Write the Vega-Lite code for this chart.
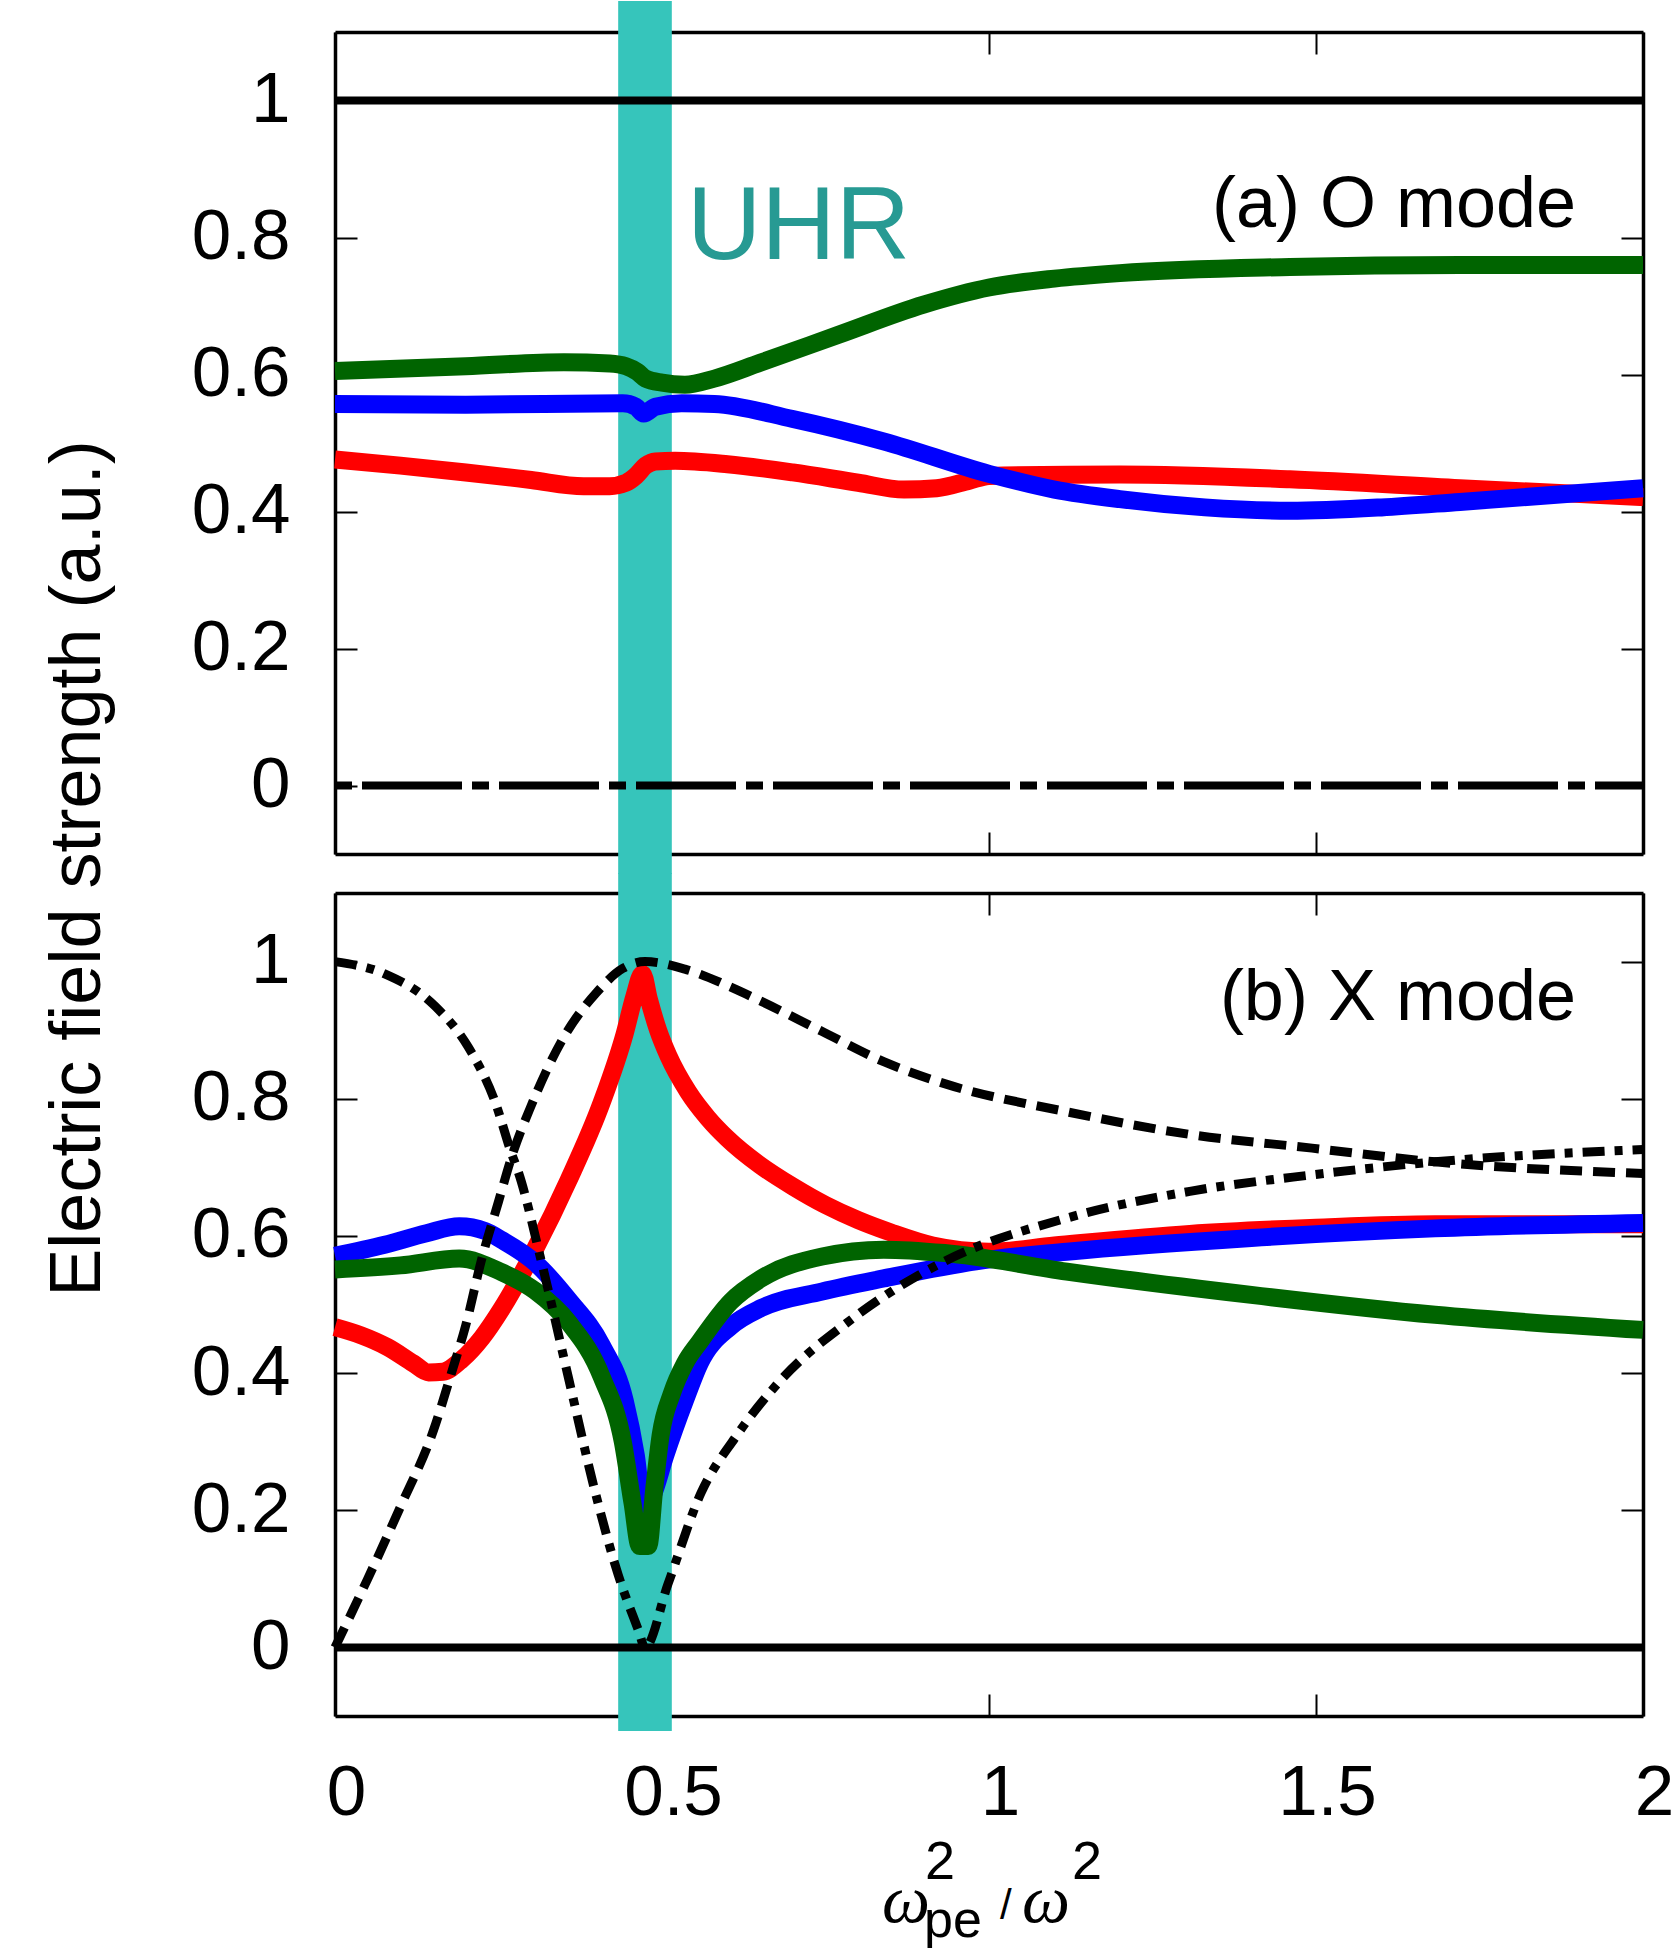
{
"$schema": "https://vega.github.io/schema/vega-lite/v6.json",
"autosize": {"type": "pad"},
"padding": {"left": 41, "top": 0, "right": 0, "bottom": 0},
"background": "white",
"spacing": 39,
"bounds": "flush",
"config": {
  "view": {"stroke": null},
  "font": "Liberation Sans",
  "axis": {"tickColor": "#000", "tickWidth": 2, "tickSize": -22, "domainColor": "#000", "domainWidth": 3.5, "grid": false, "zindex": 1, "labelColor": "#000", "labelFont": "Liberation Sans", "labelFontSize": 71, "labelFlush": false, "labelOverlap": false, "labelBound": false, "format": "~g"}
},
"datasets": {
  "band": [{"x0": 0.433, "x1": 0.515}],
  "one": [{}],
  "aRed": [{"x":0,"y":0.476},{"x":0.1,"y":0.467},{"x":0.2,"y":0.457},{"x":0.3,"y":0.446},{"x":0.38,"y":0.437},{"x":0.42,"y":0.437},{"x":0.445,"y":0.442},{"x":0.46,"y":0.452},{"x":0.475,"y":0.467},{"x":0.49,"y":0.473},{"x":0.52,"y":0.474},{"x":0.6,"y":0.469},{"x":0.7,"y":0.457},{"x":0.8,"y":0.442},{"x":0.87,"y":0.432},{"x":0.92,"y":0.434},{"x":0.97,"y":0.445},{"x":1.0,"y":0.452},{"x":1.2,"y":0.454},{"x":1.46,"y":0.447},{"x":1.72,"y":0.434},{"x":2.0,"y":0.421}],
  "aBlue": [{"x":0,"y":0.557},{"x":0.2,"y":0.556},{"x":0.44,"y":0.558},{"x":0.46,"y":0.553},{"x":0.472,"y":0.543},{"x":0.49,"y":0.553},{"x":0.53,"y":0.558},{"x":0.58,"y":0.557},{"x":0.7,"y":0.535},{"x":0.84,"y":0.502},{"x":1.0,"y":0.455},{"x":1.1,"y":0.432},{"x":1.2,"y":0.418},{"x":1.33,"y":0.406},{"x":1.46,"y":0.401},{"x":1.6,"y":0.406},{"x":1.72,"y":0.414},{"x":2.0,"y":0.434}],
  "aGreen": [{"x":0,"y":0.605},{"x":0.2,"y":0.612},{"x":0.35,"y":0.618},{"x":0.42,"y":0.616},{"x":0.445,"y":0.612},{"x":0.462,"y":0.604},{"x":0.475,"y":0.594},{"x":0.5,"y":0.588},{"x":0.535,"y":0.585},{"x":0.58,"y":0.594},{"x":0.65,"y":0.617},{"x":0.77,"y":0.658},{"x":0.9,"y":0.702},{"x":1.0,"y":0.727},{"x":1.1,"y":0.74},{"x":1.2,"y":0.748},{"x":1.46,"y":0.757},{"x":1.72,"y":0.76},{"x":2.0,"y":0.76}],
  "aRef1": [{"x":0,"y":1},{"x":2,"y":1}],
  "aRef0": [{"x":0,"y":0},{"x":2,"y":0}],
  "bRed": [{"x":0,"y":0.467},{"x":0.04,"y":0.455},{"x":0.08,"y":0.438},{"x":0.12,"y":0.414},{"x":0.143,"y":0.401},{"x":0.165,"y":0.402},{"x":0.194,"y":0.42},{"x":0.225,"y":0.452},{"x":0.255,"y":0.494},{"x":0.306,"y":0.581},{"x":0.357,"y":0.681},{"x":0.408,"y":0.795},{"x":0.443,"y":0.895},{"x":0.458,"y":0.95},{"x":0.47,"y":0.982},{"x":0.48,"y":0.945},{"x":0.494,"y":0.9},{"x":0.51,"y":0.862},{"x":0.54,"y":0.81},{"x":0.57,"y":0.772},{"x":0.6,"y":0.742},{"x":0.65,"y":0.703},{"x":0.7,"y":0.672},{"x":0.75,"y":0.645},{"x":0.8,"y":0.623},{"x":0.85,"y":0.605},{"x":0.914,"y":0.586},{"x":1.0,"y":0.577},{"x":1.1,"y":0.586},{"x":1.307,"y":0.603},{"x":1.5,"y":0.612},{"x":1.682,"y":0.617},{"x":2.0,"y":0.617}],
  "bBlue": [{"x":0,"y":0.571},{"x":0.076,"y":0.587},{"x":0.14,"y":0.604},{"x":0.19,"y":0.614},{"x":0.23,"y":0.607},{"x":0.255,"y":0.594},{"x":0.306,"y":0.561},{"x":0.357,"y":0.507},{"x":0.408,"y":0.44},{"x":0.443,"y":0.36},{"x":0.46,"y":0.28},{"x":0.472,"y":0.2},{"x":0.485,"y":0.22},{"x":0.505,"y":0.28},{"x":0.535,"y":0.36},{"x":0.558,"y":0.415},{"x":0.605,"y":0.468},{"x":0.652,"y":0.495},{"x":0.745,"y":0.519},{"x":0.839,"y":0.538},{"x":0.98,"y":0.563},{"x":1.119,"y":0.577},{"x":1.401,"y":0.597},{"x":1.682,"y":0.611},{"x":2.0,"y":0.619}],
  "bGreen": [{"x":0,"y":0.551},{"x":0.1,"y":0.557},{"x":0.19,"y":0.567},{"x":0.255,"y":0.547},{"x":0.306,"y":0.52},{"x":0.357,"y":0.474},{"x":0.408,"y":0.394},{"x":0.44,"y":0.3},{"x":0.455,"y":0.21},{"x":0.466,"y":0.148},{"x":0.479,"y":0.148},{"x":0.488,"y":0.23},{"x":0.498,"y":0.31},{"x":0.515,"y":0.37},{"x":0.535,"y":0.414},{"x":0.558,"y":0.446},{"x":0.605,"y":0.504},{"x":0.652,"y":0.538},{"x":0.745,"y":0.57},{"x":0.839,"y":0.58},{"x":0.932,"y":0.575},{"x":1.119,"y":0.548},{"x":1.401,"y":0.514},{"x":1.682,"y":0.485},{"x":2.0,"y":0.463}],
  "bZero": [{"x":0,"y":0},{"x":2,"y":0}],
  "bDashed": [{"x":0,"y":0},{"x":0.05,"y":0.1},{"x":0.1,"y":0.205},{"x":0.15,"y":0.315},{"x":0.178,"y":0.4},{"x":0.2,"y":0.47},{"x":0.224,"y":0.565},{"x":0.25,"y":0.65},{"x":0.27,"y":0.715},{"x":0.3,"y":0.79},{"x":0.35,"y":0.89},{"x":0.4,"y":0.955},{"x":0.44,"y":0.99},{"x":0.474,"y":1.0},{"x":0.535,"y":0.989},{"x":0.607,"y":0.962},{"x":0.652,"y":0.942},{"x":0.745,"y":0.898},{"x":0.839,"y":0.854},{"x":0.932,"y":0.822},{"x":1.119,"y":0.781},{"x":1.307,"y":0.748},{"x":1.494,"y":0.728},{"x":1.682,"y":0.708},{"x":2.0,"y":0.691}],
  "bDashDot": [{"x":0,"y":1.0},{"x":0.076,"y":0.982},{"x":0.153,"y":0.935},{"x":0.204,"y":0.875},{"x":0.245,"y":0.795},{"x":0.27,"y":0.72},{"x":0.28,"y":0.694},{"x":0.316,"y":0.561},{"x":0.357,"y":0.393},{"x":0.398,"y":0.226},{"x":0.433,"y":0.106},{"x":0.464,"y":0.025},{"x":0.474,"y":0.0},{"x":0.509,"y":0.092},{"x":0.56,"y":0.226},{"x":0.612,"y":0.306},{"x":0.68,"y":0.388},{"x":0.792,"y":0.48},{"x":0.932,"y":0.563},{"x":1.119,"y":0.626},{"x":1.307,"y":0.665},{"x":1.494,"y":0.689},{"x":1.682,"y":0.708},{"x":2.0,"y":0.726}]
},
"vconcat": [
  {
    "width": 1308, "height": 822,
    "resolve": {"axis": {"x": "independent", "y": "independent"}},
    "layer": [
      {"data": {"name": "band"}, "mark": {"type": "rect", "color": "#36c5bb", "clip": false},
       "encoding": {"x": {"field": "x0", "type": "quantitative", "scale": {"domain": [0, 2], "nice": false}, "axis": null}, "x2": {"field": "x1"},
                    "y": {"datum": -0.1292, "type": "quantitative", "scale": {"domain": [-0.1, 1.1], "nice": false, "zero": false}, "axis": null}, "y2": {"datum": 1.1453}}},
      {"data": {"name": "aRed"}, "mark": {"type": "line", "color": "#ff0000", "strokeWidth": 18, "interpolate": "monotone"},
       "encoding": {"x": {"field": "x", "type": "quantitative", "axis": {"orient": "bottom", "values": [0, 0.5, 1, 1.5, 2], "labels": false, "title": null}},
                    "y": {"field": "y", "type": "quantitative", "axis": {"orient": "left", "values": [0, 0.2, 0.4, 0.6, 0.8, 1], "labelPadding": 67, "title": "Electric field strength (a.u.)", "titleFontSize": 72, "titleFontWeight": "normal", "titleFont": "Liberation Sans", "titleColor": "#000", "titleAngle": 270, "titleX": -236, "titleY": 836, "titleAlign": "center", "titleBaseline": "alphabetic"}}}},
      {"data": {"name": "aBlue"}, "mark": {"type": "line", "color": "#0000ff", "strokeWidth": 18, "interpolate": "monotone"},
       "encoding": {"x": {"field": "x", "type": "quantitative", "axis": {"orient": "top", "values": [0, 0.5, 1, 1.5, 2], "labels": false, "title": null}},
                    "y": {"field": "y", "type": "quantitative", "axis": {"orient": "right", "values": [0, 0.2, 0.4, 0.6, 0.8, 1], "labels": false, "title": null}}}},
      {"data": {"name": "aGreen"}, "mark": {"type": "line", "color": "#006400", "strokeWidth": 18, "interpolate": "monotone"},
       "encoding": {"x": {"field": "x", "type": "quantitative", "axis": null}, "y": {"field": "y", "type": "quantitative", "axis": null}}},
      {"data": {"name": "aRef1"}, "mark": {"type": "line", "color": "#000000", "strokeWidth": 8},
       "encoding": {"x": {"field": "x", "type": "quantitative", "axis": null}, "y": {"field": "y", "type": "quantitative", "axis": null}}},
      {"data": {"name": "aRef0"}, "mark": {"type": "line", "color": "#000000", "strokeWidth": 8, "strokeDash": [100, 10, 17, 10], "strokeDashOffset": 110, "strokeCap": "butt"},
       "encoding": {"x": {"field": "x", "type": "quantitative", "axis": null}, "y": {"field": "y", "type": "quantitative", "axis": null}}},
      {"data": {"name": "one"}, "mark": {"type": "text", "fontSize": 103, "color": "#279a93", "align": "left", "baseline": "alphabetic", "clip": false},
       "encoding": {"x": {"datum": 0.5382, "type": "quantitative", "axis": null}, "y": {"datum": 0.7693, "type": "quantitative", "axis": null}, "text": {"value": "UHR"}}},
      {"data": {"name": "one"}, "mark": {"type": "text", "fontSize": 72, "color": "#000000", "align": "right", "baseline": "alphabetic", "clip": false},
       "encoding": {"x": {"datum": 1.8976, "type": "quantitative", "axis": null}, "y": {"datum": 0.8146, "type": "quantitative", "axis": null}, "text": {"value": "(a) O mode"}}}
    ]
  },
  {
    "width": 1308, "height": 823,
    "resolve": {"axis": {"x": "independent", "y": "independent"}},
    "layer": [
      {"data": {"name": "band"}, "mark": {"type": "rect", "color": "#36c5bb", "clip": false},
       "encoding": {"x": {"field": "x0", "type": "quantitative", "scale": {"domain": [0, 2], "nice": false}, "axis": null}, "x2": {"field": "x1"},
                    "y": {"datum": -0.1219, "type": "quantitative", "scale": {"domain": [-0.1, 1.1], "nice": false, "zero": false}, "axis": null}, "y2": {"datum": 1.1292}}},
      {"data": {"name": "bRed"}, "mark": {"type": "line", "color": "#ff0000", "strokeWidth": 18, "interpolate": "monotone"},
       "encoding": {"x": {"field": "x", "type": "quantitative", "axis": {"orient": "bottom", "values": [0, 0.5, 1, 1.5, 2], "labelPadding": 64, "labelOffset": 11, "title": null}},
                    "y": {"field": "y", "type": "quantitative", "axis": {"orient": "left", "values": [0, 0.2, 0.4, 0.6, 0.8, 1], "labelPadding": 67, "title": null}}}},
      {"data": {"name": "bBlue"}, "mark": {"type": "line", "color": "#0000ff", "strokeWidth": 18, "interpolate": "monotone"},
       "encoding": {"x": {"field": "x", "type": "quantitative", "axis": {"orient": "top", "values": [0, 0.5, 1, 1.5, 2], "labels": false, "title": null}},
                    "y": {"field": "y", "type": "quantitative", "axis": {"orient": "right", "values": [0, 0.2, 0.4, 0.6, 0.8, 1], "labels": false, "title": null}}}},
      {"data": {"name": "bGreen"}, "mark": {"type": "line", "color": "#006400", "strokeWidth": 18, "interpolate": "monotone"},
       "encoding": {"x": {"field": "x", "type": "quantitative", "axis": null}, "y": {"field": "y", "type": "quantitative", "axis": null}}},
      {"data": {"name": "bZero"}, "mark": {"type": "line", "color": "#000000", "strokeWidth": 8},
       "encoding": {"x": {"field": "x", "type": "quantitative", "axis": null}, "y": {"field": "y", "type": "quantitative", "axis": null}}},
      {"data": {"name": "bDashed"}, "mark": {"type": "line", "color": "#000000", "strokeWidth": 9, "strokeDash": [22, 11], "strokeCap": "butt", "interpolate": "monotone"},
       "encoding": {"x": {"field": "x", "type": "quantitative", "axis": null}, "y": {"field": "y", "type": "quantitative", "axis": null}}},
      {"data": {"name": "bDashDot"}, "mark": {"type": "line", "color": "#000000", "strokeWidth": 9, "strokeDash": [22, 10, 8, 10], "strokeCap": "butt", "interpolate": "monotone"},
       "encoding": {"x": {"field": "x", "type": "quantitative", "axis": null}, "y": {"field": "y", "type": "quantitative", "axis": null}}},
      {"data": {"name": "one"}, "mark": {"type": "text", "fontSize": 72, "color": "#000000", "align": "right", "baseline": "alphabetic", "clip": false},
       "encoding": {"x": {"datum": 1.8976, "type": "quantitative", "axis": null}, "y": {"datum": 0.915, "type": "quantitative", "axis": null}, "text": {"value": "(b) X mode"}}},
      {"data": {"name": "one"}, "mark": {"type": "text", "font": "Liberation Serif", "fontStyle": "italic", "fontSize": 68, "color": "#000000", "align": "left", "baseline": "alphabetic", "clip": false},
       "encoding": {"x": {"datum": 0.8364, "type": "quantitative", "axis": null}, "y": {"datum": -0.4009, "type": "quantitative", "axis": null}, "text": {"value": "ω"}}},
      {"data": {"name": "one"}, "mark": {"type": "text", "fontSize": 54, "color": "#000000", "align": "left", "baseline": "alphabetic", "clip": false},
       "encoding": {"x": {"datum": 0.9021, "type": "quantitative", "axis": null}, "y": {"datum": -0.3382, "type": "quantitative", "axis": null}, "text": {"value": "2"}}},
      {"data": {"name": "one"}, "mark": {"type": "text", "fontSize": 52, "color": "#000000", "align": "left", "baseline": "alphabetic", "clip": false},
       "encoding": {"x": {"datum": 0.9006, "type": "quantitative", "axis": null}, "y": {"datum": -0.4227, "type": "quantitative", "axis": null}, "text": {"value": "pe"}}},
      {"data": {"name": "one"}, "mark": {"type": "text", "fontSize": 42, "color": "#000000", "align": "left", "baseline": "alphabetic", "clip": false},
       "encoding": {"x": {"datum": 1.0168, "type": "quantitative", "axis": null}, "y": {"datum": -0.3965, "type": "quantitative", "axis": null}, "text": {"value": "/"}}},
      {"data": {"name": "one"}, "mark": {"type": "text", "font": "Liberation Serif", "fontStyle": "italic", "fontSize": 68, "color": "#000000", "align": "left", "baseline": "alphabetic", "clip": false},
       "encoding": {"x": {"datum": 1.0505, "type": "quantitative", "axis": null}, "y": {"datum": -0.4009, "type": "quantitative", "axis": null}, "text": {"value": "ω"}}},
      {"data": {"name": "one"}, "mark": {"type": "text", "fontSize": 54, "color": "#000000", "align": "left", "baseline": "alphabetic", "clip": false},
       "encoding": {"x": {"datum": 1.1269, "type": "quantitative", "axis": null}, "y": {"datum": -0.3382, "type": "quantitative", "axis": null}, "text": {"value": "2"}}}
    ]
  }
]
}
